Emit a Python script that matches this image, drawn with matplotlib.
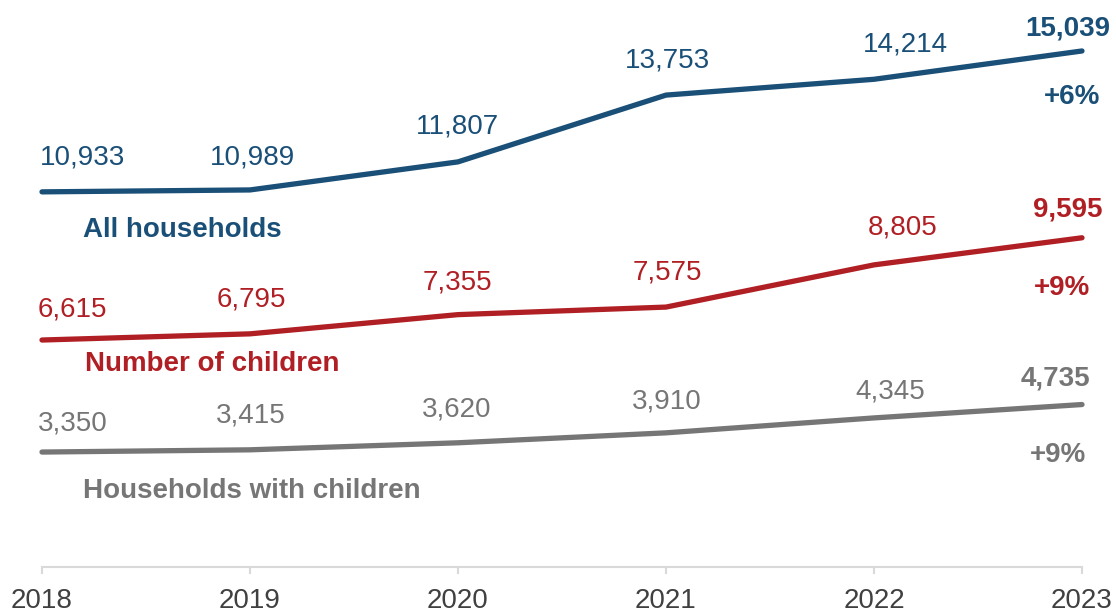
import matplotlib.pyplot as plt

plt.rcParams['font.family'] = ['Liberation Sans', 'DejaVu Sans']

years = [2018, 2019, 2020, 2021, 2022, 2023]
all_households = [10933, 10989, 11807, 13753, 14214, 15039]
number_of_children = [6615, 6795, 7355, 7575, 8805, 9595]
households_with_children = [3350, 3415, 3620, 3910, 4345, 4735]

series_names = ["All households", "Number of children", "Households with children"]
growth_labels = ["+6%", "+9%", "+9%"]

BLUE = "#1a4f77"
RED = "#b01f24"
GRAY = "#767676"

fig = plt.figure(figsize=(11.16, 6.11), dpi=100)
ax = fig.add_axes([42 / 1116, 44 / 611, 1040 / 1116, 549 / 611])
ax.set_xlim(2018, 2023)
ax.set_ylim(0, 16000)

series = [
    (all_households, BLUE,
     [(41, 34), (2, 32), (-1, 35), (1, 35), (31, 35), (-14, 22)],
     (-10, -46), (140, -38)),
    (number_of_children, RED,
     [(30, 31), (1, 34), (-1, 32), (1, 35), (29, 37), (-14, 28)],
     (-20, -50), (170, -24)),
    (households_with_children, GRAY,
     [(31, 29), (1, 34), (-1, 33), (1, 31), (16, 26), (-27, 26)],
     (-24, -50), (210, -39)),
]

for (values, color, offsets, growth_off, name_off), name, growth in zip(
        series, series_names, growth_labels):
    ax.plot(years, values, color=color, lw=3.8, solid_capstyle='round',
            solid_joinstyle='round', clip_on=False)
    last = len(values) - 1
    for i, (x, v) in enumerate(zip(years, values)):
        ax.annotate(f"{v:,}", (x, v), xytext=offsets[i], textcoords='offset pixels',
                    ha='center', va='center', fontsize=20, color=color,
                    fontweight='bold' if i == last else 'normal',
                    annotation_clip=False)
    ax.annotate(growth, (years[last], values[last]), xytext=growth_off,
                textcoords='offset pixels', ha='center', va='center',
                fontsize=20, fontweight='bold', color=color, annotation_clip=False)
    ax.annotate(name, (years[0], values[0]), xytext=name_off,
                textcoords='offset pixels', ha='center', va='center',
                fontsize=20, fontweight='bold', color=color, annotation_clip=False)

for side in ['top', 'right', 'left']:
    ax.spines[side].set_visible(False)
ax.spines['bottom'].set_color('#d9d9d9')
ax.spines['bottom'].set_linewidth(1.5)
ax.set_yticks([])
ax.set_xticks(years)
ax.set_xticklabels([str(y) for y in years])
ax.tick_params(axis='x', length=5, width=1.5, color='#d9d9d9', pad=10,
               labelsize=20, labelcolor='#404040')

fig.savefig('out.png', dpi=100)
